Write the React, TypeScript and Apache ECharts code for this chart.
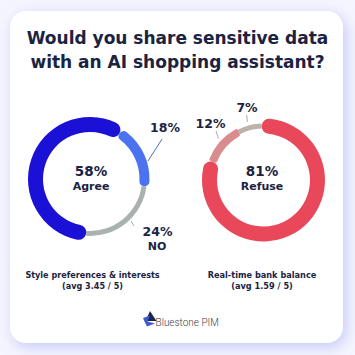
import React, { useEffect, useRef } from 'react';
import * as echarts from 'echarts';

const titleLines = ['Would you share sensitive data', 'with an AI shopping assistant?'];
const leftCategories = ['Agree', 'Neutral', 'NO'];
const leftValues = [58, 18, 24];
const rightCategories = ['Refuse', 'Neutral', 'Agree'];
const rightValues = [81, 12, 7];
const chartNames = ['Style preferences & interests', 'Real-time bank balance'];
const chartAverages = ['(avg 3.45 / 5)', '(avg 1.59 / 5)'];
const brand = 'Bluestone PIM';

const NAVY = '#1b2342';
const FONT = '"DejaVu Sans", Inter, sans-serif';

function ring(center: number[], startAngle: number, cats: string[], vals: number[], idx: number, color: string, radius: number[], cap: number) {
  return {
    type: 'pie',
    center,
    radius,
    startAngle,
    clockwise: true,
    silent: true,
    label: { show: false },
    labelLine: { show: false },
    emphasis: { disabled: true },
    data: cats.map((name, i) => ({
      name,
      value: vals[i],
      itemStyle: { color: i === idx ? color : 'rgba(0,0,0,0)', borderRadius: i === idx ? cap : 0 },
    })),
  };
}

function txt(x: number, y: number, text: string, size: number, color = NAVY, weight: any = 700, family = FONT) {
  return {
    type: 'text',
    x,
    y,
    z: 10,
    silent: true,
    style: {
      text,
      fill: color,
      fontSize: size,
      fontWeight: weight,
      fontFamily: family,
      align: 'center',
      verticalAlign: 'middle',
      textAlign: 'center',
      textVerticalAlign: 'middle',
    },
  };
}

function seg(x1: number, y1: number, x2: number, y2: number, color: string) {
  return { type: 'line', z: 10, silent: true, shape: { x1, y1, x2, y2 }, style: { stroke: color, lineWidth: 1 } };
}

export default function App() {
  const ref = useRef<HTMLDivElement>(null);
  useEffect(() => {
    const chart = echarts.init(ref.current!, null, { renderer: 'svg' });
    const lc = [90, 179];
    const rc = [263.5, 180];
    chart.setOption({
      animation: false,
      backgroundColor: '#f4f5fe',
      title: {
        text: titleLines.join('\n'),
        left: 'center',
        top: 21,
        textStyle: { fontSize: 17, fontWeight: 700, lineHeight: 24, color: NAVY, fontFamily: FONT },
      },
      series: [
        ring(lc, -94, leftCategories, leftValues, 2, '#a9b1b1', [52, 57], 0),
        ring(lc, -94, leftCategories, leftValues, 1, '#4b72ef', [49.5, 59.5], 5),
        ring(lc, -94, leftCategories, leftValues, 0, '#1b10d6', [47, 62], 7.5),
        ring(rc, 92, rightCategories, rightValues, 2, '#bcb2ac', [51.5, 56.5], 0),
        ring(rc, 92, rightCategories, rightValues, 1, '#d98b8e', [50, 58], 2),
        ring(rc, 92, rightCategories, rightValues, 0, '#e8485a', [46.5, 61.5], 7.5),
      ],
      graphic: {
        elements: [
          {
            type: 'rect',
            z: -1,
            silent: true,
            shape: { x: 10, y: 11, width: 333, height: 332, r: 16 },
            style: { fill: '#ffffff', shadowBlur: 14, shadowColor: 'rgba(165,172,245,0.6)', shadowOffsetX: 3, shadowOffsetY: 4 },
          },
          txt(91, 170.5, `${leftValues[0]}%`, 13.5),
          txt(91, 186, leftCategories[0], 11),
          txt(262, 170.5, `${rightValues[0]}%`, 13.5),
          txt(262, 186, rightCategories[0], 11),
          seg(148, 161, 162, 139, '#4a6be0'),
          txt(165, 127, `${leftValues[1]}%`, 12.5),
          seg(131, 221, 134, 226, '#a9b1b1'),
          txt(157.5, 231, `${leftValues[2]}%`, 12.5),
          txt(157, 246, leftCategories[2], 11),
          seg(216, 131, 218.5, 138.5, '#b8a8a0'),
          txt(210.5, 123, `${rightValues[1]}%`, 12.5),
          seg(246.7, 115, 247.3, 122, '#b8a8a0'),
          txt(247, 107, `${rightValues[2]}%`, 12.5),
          txt(92.5, 274.5, chartNames[0], 8.1),
          txt(92.5, 286, chartAverages[0], 8.1),
          txt(262, 274.5, chartNames[1], 8.2),
          txt(262, 286, chartAverages[1], 8.2),
          {
            type: 'polygon', z: 10, silent: true,
            shape: { points: [[150, 311], [156.5, 321], [145.5, 321]] },
            style: { fill: '#1e2350' },
          },
          {
            type: 'polygon', z: 11, silent: true,
            shape: { points: [[143, 318], [150, 315.5], [147.5, 321.5], [155, 323.5], [147, 326.5], [144.5, 321.5]] },
            style: { fill: '#3d5bd0' },
          },
          {
            type: 'text', z: 10, silent: true, x: 155.5, y: 322,
            style: { text: brand, fill: '#3c3c44', fontSize: 10, fontWeight: 300, fontFamily: 'Roboto, sans-serif', align: 'left', verticalAlign: 'middle', textAlign: 'left', textVerticalAlign: 'middle' },
          },
        ],
      },
    });
    return () => chart.dispose();
  }, []);
  return <div ref={ref} style={{ position: 'fixed', left: 0, top: 0, width: 355, height: 355 }} />;
}
